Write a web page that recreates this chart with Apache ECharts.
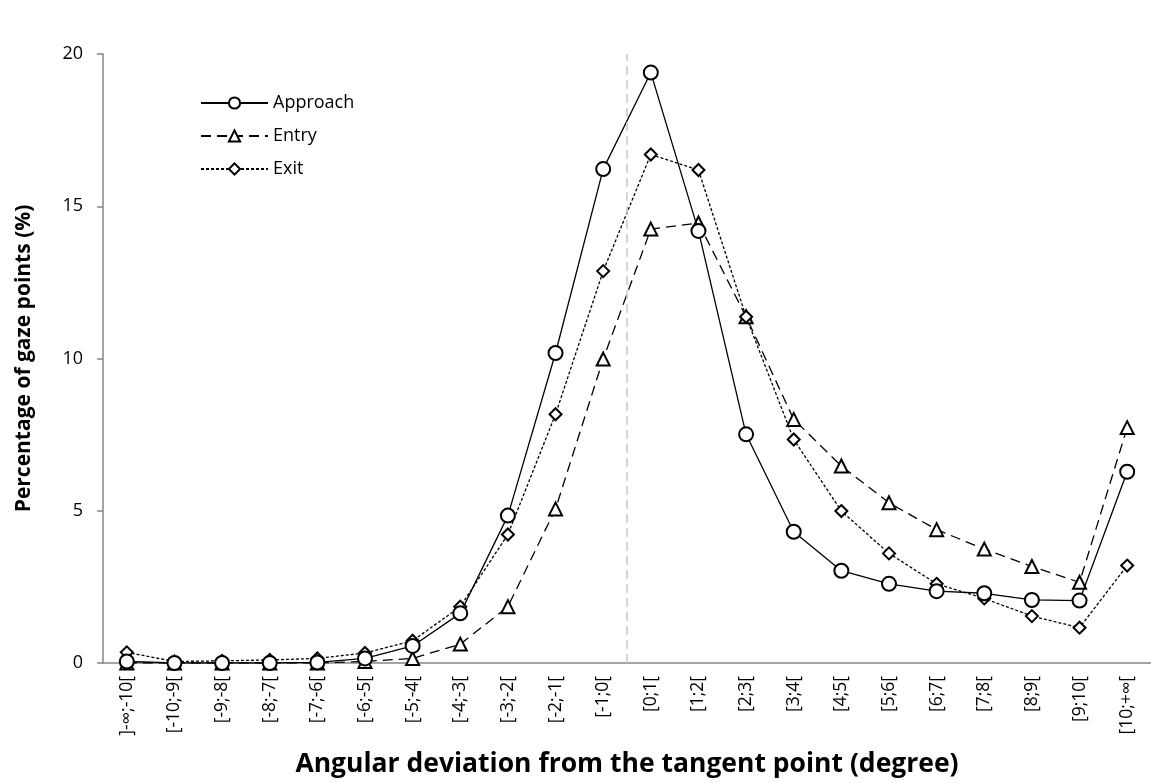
<!DOCTYPE html>
<html>
<head>
<meta charset="utf-8">
<script src="https://cdn.jsdelivr.net/npm/echarts@6/dist/echarts.min.js"></script>
<style>
  html, body { margin: 0; padding: 0; background: #fff; }
  #chart { width: 1151px; height: 783px; }
</style>
</head>
<body>
<div id="chart"></div>
<script>
// angular deviation bins (degree)
var bins = [']-∞;-10[', '[-10;-9[', '[-9;-8[', '[-8;-7[', '[-7;-6[', '[-6;-5[', '[-5;-4[',
  '[-4;-3[', '[-3;-2[', '[-2;-1[', '[-1;0[', '[0;1[', '[1;2[', '[2;3[', '[3;4[', '[4;5[',
  '[5;6[', '[6;7[', '[7;8[', '[8;9[', '[9;10[', '[10;+∞['];

// percentage of gaze points
var approach = [0.05, 0.0, 0.0, 0.0, 0.02, 0.15, 0.56, 1.63, 4.84, 10.18, 16.22, 19.39,
  14.19, 7.51, 4.31, 3.03, 2.6, 2.36, 2.29, 2.07, 2.05, 6.28];
var entry = [0.0, 0.0, 0.0, 0.0, 0.0, 0.05, 0.15, 0.62, 1.85, 5.06, 9.98, 14.25,
  14.45, 11.37, 8.0, 6.47, 5.26, 4.38, 3.74, 3.17, 2.65, 7.73];
var exit = [0.35, 0.05, 0.07, 0.1, 0.15, 0.33, 0.73, 1.85, 4.22, 8.17, 12.87, 16.7,
  16.19, 11.37, 7.34, 4.99, 3.6, 2.6, 2.12, 1.54, 1.16, 3.2];

var yTicks = [0, 5, 10, 15, 20];
// the tangent point sits between the negative and positive bins
var tangentBoundary = bins.indexOf('[0;1[');

var font = 'Open Sans';
var myChart = echarts.init(document.getElementById('chart'));

var option = {
  animation: false,
  textStyle: { fontFamily: font },
  grid: { left: 103, right: -5, top: 54, bottom: 120 },
  legend: {
    orient: 'vertical',
    left: 195,
    top: 89,
    itemWidth: 67,
    itemHeight: 14,
    itemGap: 15,
    textStyle: { fontSize: 18, color: '#000', fontFamily: font },
    data: ['Approach', 'Entry', 'Exit']
  },
  xAxis: [{
    type: 'category',
    data: bins,
    boundaryGap: true,
    name: 'Angular deviation from the tangent point (degree)',
    nameLocation: 'middle',
    nameGap: 88,
    nameTextStyle: { fontSize: 26.5, fontWeight: 'bold', color: '#000' },
    axisLine: { lineStyle: { color: '#868686', width: 1.5 } },
    axisTick: { interval: 0, length: 6, lineStyle: { color: '#868686', width: 1.5 } },
    axisLabel: { interval: 0, rotate: 90, margin: 13, fontSize: 17.5, color: '#000' },
    splitLine: { show: false }
  }, {
    // helper scale counting bins, used only for the tangent-point marker
    type: 'value',
    show: false,
    min: 0,
    max: bins.length
  }],
  yAxis: {
    type: 'value',
    min: yTicks[0],
    max: yTicks[yTicks.length - 1],
    interval: 5,
    name: 'Percentage of gaze points (%)',
    nameLocation: 'middle',
    nameRotate: 90,
    nameGap: 68,
    nameTextStyle: { fontSize: 21, fontWeight: 'bold', color: '#000' },
    axisLine: { show: true, lineStyle: { color: '#868686', width: 1.5 } },
    axisTick: { show: true, length: 6, lineStyle: { color: '#868686', width: 1.5 } },
    axisLabel: { margin: 20, fontSize: 18, color: '#000' },
    splitLine: { show: false }
  },
  series: [{
    name: 'Approach',
    type: 'line',
    data: approach,
    symbol: 'emptyCircle',
    symbolSize: 14,
    itemStyle: { color: '#000', borderWidth: 1.6 },
    lineStyle: { color: '#000', width: 1.3, type: 'solid' },
    z: 4
  }, {
    name: 'Entry',
    type: 'line',
    data: entry,
    symbol: 'emptyTriangle',
    symbolSize: 13,
    itemStyle: { color: '#000', borderWidth: 1.6 },
    lineStyle: { color: '#000', width: 1.3, type: [10, 6] },
    z: 3
  }, {
    name: 'Exit',
    type: 'line',
    data: exit,
    symbol: 'emptyDiamond',
    symbolSize: 12,
    itemStyle: { color: '#000', borderWidth: 1.6 },
    lineStyle: { color: '#000', width: 1.3, type: [3, 2] },
    z: 3
  }, {
    name: 'tangent',
    type: 'line',
    xAxisIndex: 1,
    data: [],
    silent: true,
    z: 1,
    markLine: {
      silent: true,
      symbol: 'none',
      label: { show: false },
      lineStyle: { color: '#c8c8c8', type: [9, 5], width: 1.5 },
      data: [{ xAxis: tangentBoundary }]
    }
  }]
};

myChart.setOption(option, true);
</script>
</body>
</html>
